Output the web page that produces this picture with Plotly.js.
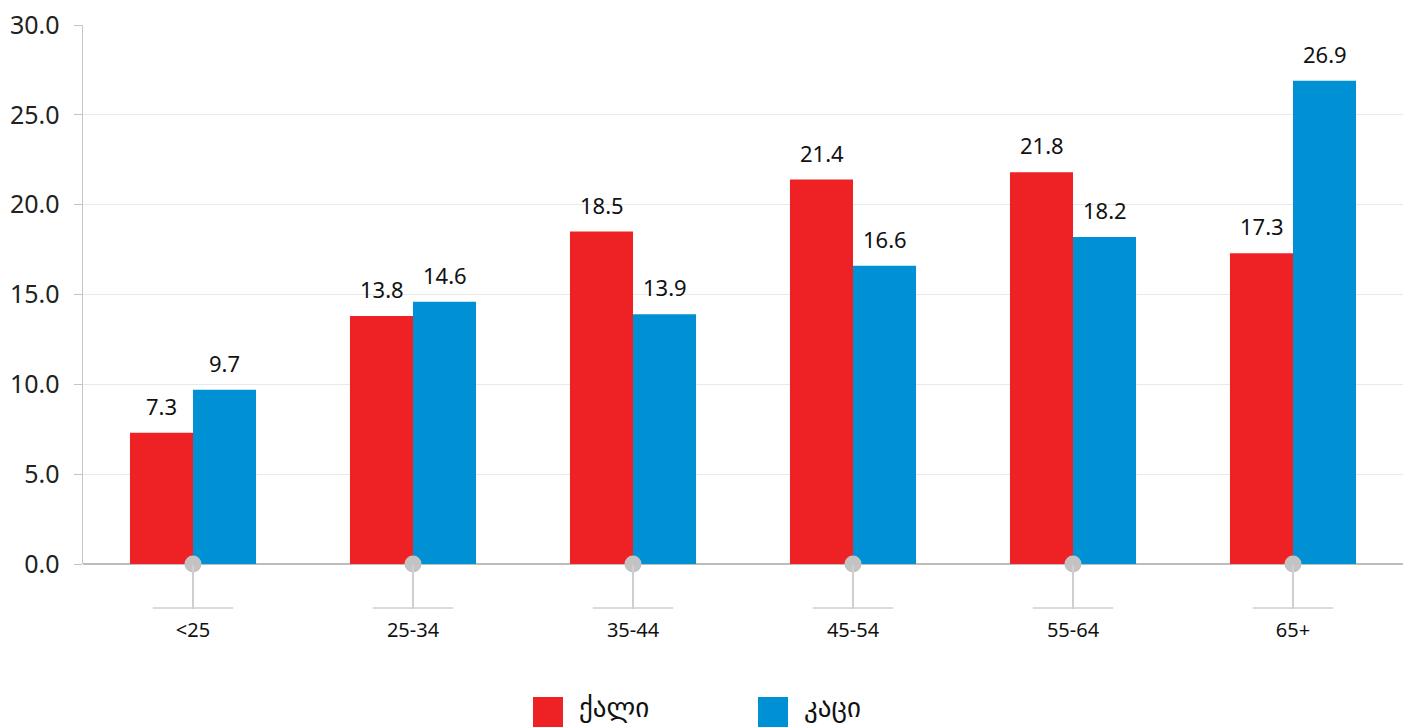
<!DOCTYPE html>
<html><head><meta charset="utf-8">
<script src="https://cdn.plot.ly/plotly-3.0.1.min.js"></script>
<style>html,body{margin:0;padding:0;background:#fff}#chart{width:1410px;height:728px}</style>
</head><body><div id="chart"></div>
<script>
const categories = ['<25','25-34','35-44','45-54','55-64','65+'];
const womenName = 'ქალი';
const menName = 'კაცი';
const womenValues = [7.3, 13.8, 18.5, 21.4, 21.8, 17.3];
const menValues = [9.7, 14.6, 13.9, 16.6, 18.2, 26.9];
const yTicks = [0, 5, 10, 15, 20, 25, 30];
const womenColor = '#ee2224';
const menColor = '#0091d5';

const FONT = 'Noto Sans, DejaVu Sans, sans-serif';
const W = 1410, H = 728, L = 83, R = 7, T = 25, B = 164;
const pw = W - L - R, ph = H - T - B;
const px2x = p => (p - L) / pw;
const px2y = p => (H - B - p) / ph;

const traces = [
  {type:'bar', x:categories, y:womenValues, name:womenName, marker:{color:womenColor}, hoverinfo:'y'},
  {type:'bar', x:categories, y:menValues, name:menName, marker:{color:menColor}, hoverinfo:'y'},
  {type:'scatter', mode:'markers', x:categories, y:categories.map(()=>0), cliponaxis:false,
   marker:{color:'#c3c3c3', size:17}, showlegend:false, hoverinfo:'skip'}
];

const annotations = [];
categories.forEach((c,i)=>{
  annotations.push({x:i, xshift:-31.5, y:womenValues[i], yanchor:'middle', yshift:27, xref:'x', yref:'y',
    text:womenValues[i].toFixed(1), showarrow:false, font:{family:FONT, size:22, color:'#111'}});
  annotations.push({x:i, xshift:31.5, y:menValues[i], yanchor:'middle', yshift:27, xref:'x', yref:'y',
    text:menValues[i].toFixed(1), showarrow:false, font:{family:FONT, size:22, color:'#111'}});
});
// custom legend labels
annotations.push({xref:'paper', yref:'paper', x:px2x(577), y:px2y(706), xanchor:'left', yanchor:'middle',
  text:womenName, showarrow:false, font:{family:FONT, size:27, color:'#111'}});
annotations.push({xref:'paper', yref:'paper', x:px2x(802), y:px2y(706), xanchor:'left', yanchor:'middle',
  text:menName, showarrow:false, font:{family:FONT, size:27, color:'#111'}});

const shapes = [];
categories.forEach((c,i)=>{
  shapes.push({type:'line', xref:'x', yref:'paper', x0:i-0.183, x1:i+0.183, y0:px2y(608), y1:px2y(608),
    line:{color:'#cfcfcf', width:1.5}});
});
shapes.push({type:'rect', xref:'paper', yref:'paper', x0:px2x(533), x1:px2x(563), y0:px2y(697), y1:px2y(727),
  fillcolor:womenColor, line:{width:0}});
shapes.push({type:'rect', xref:'paper', yref:'paper', x0:px2x(758), x1:px2x(788), y0:px2y(697), y1:px2y(727),
  fillcolor:menColor, line:{width:0}});

const layout = {
  width:W, height:H, margin:{l:L, r:R, t:T, b:B}, paper_bgcolor:'#fff', plot_bgcolor:'#fff',
  barmode:'group', bargap:0.427, bargroupgap:0, showlegend:false,
  font:{family:FONT, color:'#222'},
  xaxis:{type:'category', range:[-0.5, 5.5], showgrid:false, zeroline:false, showline:false,
    ticks:'outside', ticklen:44, tickwidth:1.5, tickcolor:'#cfcfcf', ticklabelstandoff:4,
    tickfont:{family:FONT, size:20, color:'#111'}, automargin:false},
  yaxis:{range:[0,30], tickvals:yTicks, ticktext:yTicks.map(v=>v.toFixed(1)), showgrid:true, gridcolor:'#e9e9e9',
    zeroline:true, zerolinecolor:'#bdbdbd', zerolinewidth:1.5, showline:true, linecolor:'#c4c4c4', linewidth:1.5,
    ticks:'outside', ticklen:8, tickcolor:'#c4c4c4', ticklabelstandoff:9,
    tickfont:{family:FONT, size:25, color:'#222'}, automargin:false},
  annotations, shapes
};
Plotly.newPlot('chart', traces, layout, {displayModeBar:false, staticPlot:true});
</script></body></html>
